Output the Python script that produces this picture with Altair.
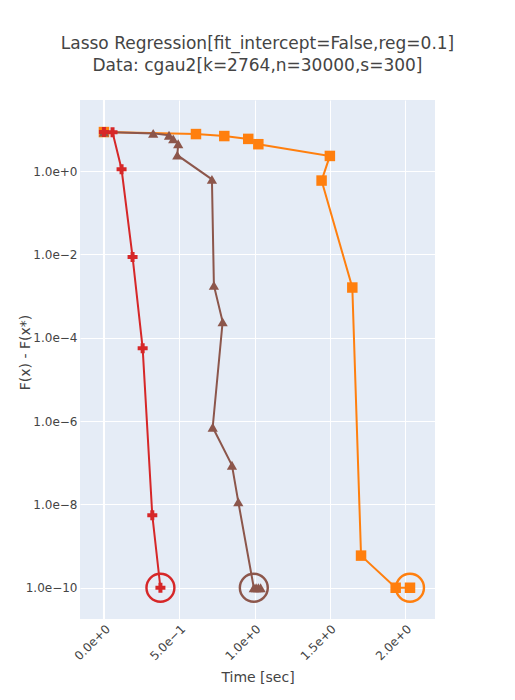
import altair as alt
import pandas as pd

# ---- data ----
red_x = [0.0, 0.057, 0.117, 0.19, 0.257, 0.321, 0.375]
red_y = [8.6, 8.5, 1.1, 8.7e-3, 5.6e-5, 5.5e-9, 1.0e-10]

brown_x = [0.0, 0.327, 0.432, 0.46, 0.493, 0.487, 0.717, 0.730, 0.788, 0.722,
           0.85, 0.892, 0.995, 1.01, 1.025, 1.04]
brown_y = [8.6, 8.0, 7.2, 5.9, 4.5, 2.4, 0.63, 1.8e-3, 2.4e-4, 7.1e-7,
           8.7e-8, 1.15e-8, 1.0e-10, 1.0e-10, 1.0e-10, 1.0e-10]

orange_x = [0.0, 0.611, 0.799, 0.958, 1.025, 1.50, 1.445, 1.649, 1.707, 1.937, 2.032]
orange_y = [8.6, 7.7, 6.9, 5.9, 4.4, 2.3, 0.59, 1.6e-3, 5.9e-10, 1.0e-10, 1.0e-10]

final_names = ["orange", "brown", "red"]
final_x = [2.032, 0.995, 0.375]
final_y = [1.0e-10, 1.0e-10, 1.0e-10]

series_names = ["orange", "brown", "red"]
series_colors = ["#ff7f0e", "#8c564b", "#d62728"]
series_shapes = ["square", "triangle-up", "cross"]
series_sizes = [110, 100, 150]

x_ticks = [0.0, 0.5, 1.0, 1.5, 2.0]
y_ticks = [1e0, 1e-2, 1e-4, 1e-6, 1e-8, 1e-10]

title_lines = ["Lasso Regression[fit_intercept=False,reg=0.1]",
               "Data: cgau2[k=2764,n=30000,s=300]"]

# ---- build table ----
rows = []
for name, xs, ys in [("orange", orange_x, orange_y), ("brown", brown_x, brown_y), ("red", red_x, red_y)]:
    for i, (xv, yv) in enumerate(zip(xs, ys)):
        rows.append({"series": name, "idx": i, "t": xv, "f": yv})
df = pd.DataFrame(rows)
fin = pd.DataFrame({"series": final_names, "t": final_x, "f": final_y})

FONT = "DejaVu Sans"
TXT = "#444444"
MINUS = "replace(format(datum.value, '.1e'), '-', '\u2212')"

xscale = alt.Scale(domain=[-0.159, 2.198], nice=False, zero=False)
yscale = alt.Scale(type="log", domain=[10 ** -10.75, 10 ** 1.704], nice=False)
color = alt.Color("series:N", scale=alt.Scale(domain=series_names, range=series_colors), legend=None)

xaxis = alt.Axis(values=x_ticks, labelExpr=MINUS, labelAngle=-45, title="Time [sec]",
                 grid=True, gridColor="white", gridWidth=1, domain=False, ticks=False,
                 labelFontSize=12, labelColor=TXT, labelFont=FONT, labelPadding=4,
                 titleFontSize=14, titleColor=TXT, titleFont=FONT, titleFontWeight="normal",
                 titleX=177.5, titleY=58, titleBaseline="middle", titleAlign="center")
yaxis = alt.Axis(values=y_ticks, labelExpr=MINUS, title="F(x) - F(x*)",
                 grid=True, gridColor="white", gridWidth=1, domain=False, ticks=False,
                 labelFontSize=12, labelColor=TXT, labelFont=FONT, labelPadding=3,
                 titleFontSize=14, titleColor=TXT, titleFont=FONT, titleFontWeight="normal",
                 titleX=-55, titleY=252, titleAngle=-90, titleBaseline="middle", titleAlign="center")

base = alt.Chart(df)

lines = base.mark_line(strokeWidth=2).encode(
    x=alt.X("t:Q", scale=xscale, axis=xaxis),
    y=alt.Y("f:Q", scale=yscale, axis=yaxis),
    color=color,
    detail="series:N",
    order="idx:Q",
)

points = base.mark_point(filled=True, opacity=1, strokeWidth=0).encode(
    x=alt.X("t:Q", scale=xscale),
    y=alt.Y("f:Q", scale=yscale),
    color=color,
    shape=alt.Shape("series:N", scale=alt.Scale(domain=series_names, range=series_shapes), legend=None),
    size=alt.Size("series:N", scale=alt.Scale(domain=series_names, range=series_sizes), legend=None),
)

zero_line = alt.Chart(pd.DataFrame({"t": [0.0]})).mark_rule(color="white", strokeWidth=2).encode(
    x=alt.X("t:Q", scale=xscale),
)

rings = alt.Chart(fin).mark_point(filled=False, shape="circle", size=780, strokeWidth=2.4, opacity=1).encode(
    x=alt.X("t:Q", scale=xscale),
    y=alt.Y("f:Q", scale=yscale),
    color=color,
)

layers = []
for name in series_names:
    layers.append(lines.transform_filter(alt.datum.series == name))
    layers.append(points.transform_filter(alt.datum.series == name))
layers.append(rings)

chart = alt.layer(zero_line, *layers).properties(
    width=355,
    height=519,
    background="white",
    autosize=alt.AutoSizeParams(type="none"),
    padding={"left": 72, "top": 92, "right": 72, "bottom": 73},
    title=alt.Title(text=title_lines, fontSize=17, font=FONT, color=TXT, fontWeight="normal",
                    anchor="middle", offset=24, lineHeight=22),
).configure_view(fill="#E5ECF6", stroke=None)

chart.save("out.html", embed_options={"renderer": "svg", "actions": False})
